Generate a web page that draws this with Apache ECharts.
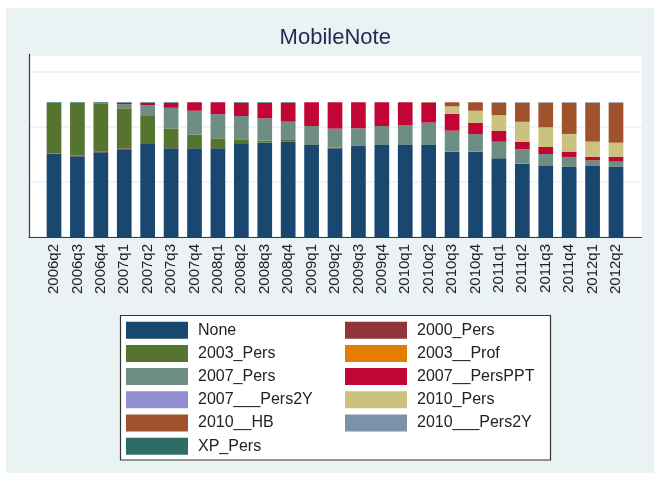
<!DOCTYPE html>
<html>
<head>
<meta charset="utf-8">
<script src="https://cdn.jsdelivr.net/npm/echarts@6/dist/echarts.min.js"></script>
<style>
html,body{margin:0;padding:0;background:#fff;width:654px;height:477px;overflow:hidden;}
#c{position:absolute;left:6px;top:8px;width:648px;height:465px;}
</style>
</head>
<body>
<div id="c"></div>
<script>
const categories = ['2006q2','2006q3','2006q4','2007q1','2007q2','2007q3','2007q4','2008q1','2008q2','2008q3','2008q4','2009q1','2009q2','2009q3','2009q4','2010q1','2010q2','2010q3','2010q4','2011q1','2011q2','2011q3','2011q4','2012q1','2012q2'];

const seriesNames = ['None','2000_Pers','2003_Pers','2003__Prof','2007_Pers','2007__PersPPT','2007___Pers2Y','2010_Pers','2010__HB','2010___Pers2Y','XP_Pers'];

const none_         = [61.8,59.9,62.9,65.1,69.0,65.8,65.8,65.8,69.0,70.0,70.8,68.3,65.8,67.6,68.3,68.3,68.3,63.3,63.3,58.4,54.4,52.7,52.0,52.7,52.0];
const pers2000      = [0.3,0.5,0.7,0.7,0,0,0,0,0,0,0,0,0,0,0,0,0,0,0,0,0,0,0,0,0];
const pers2003      = [37.4,39.1,35.6,29.7,20.8,14.8,10.1,7.4,3.5,1.5,1.2,0,0.7,0,0,0,0,0,0,0,0,0,0,0,0];
const prof2003      = [0,0,0,0,0,0,0,0,0,0,0,0,0,0,0,0,0,0,0,0,0,0,0,0,0];
const pers2007      = [0,0,0,3.0,7.9,15.3,17.8,18.0,17.3,16.6,13.6,14.1,13.9,13.1,14.1,14.8,16.6,15.6,13.1,12.3,10.7,8.9,7.4,4.2,3.9];
const persPPT2007   = [0,0,0,1.0,1.8,3.6,6.3,8.8,9.7,11.4,13.9,17.6,19.6,19.3,17.6,16.9,14.6,12.4,8.4,8.2,5.6,5.2,4.0,2.5,3.5];
const pers2Y2007    = [0,0,0,0,0,0,0,0,0,0,0,0,0,0,0,0,0,0,0,0,0,0,0,0,0];
const pers2010      = [0,0,0,0,0,0,0,0,0,0,0,0,0,0,0,0,0,5.7,8.9,11.6,14.8,14.6,13.1,11.4,10.6];
const hb2010        = [0,0,0,0,0,0,0,0,0,0,0,0,0,0,0,0,0.5,3.0,6.3,9.0,14.0,18.1,23.0,28.7,29.5];
const pers2Y2010    = [0,0,0,0,0,0,0,0,0,0,0,0,0,0,0,0,0,0,0,0.5,0.5,0.5,0.5,0.5,0.5];
const xpPers        = [0.5,0.5,0.8,0.5,0.5,0.5,0,0,0.5,0.5,0.5,0,0,0,0,0,0,0,0,0,0,0,0,0,0];

const seriesValues = [none_,pers2000,pers2003,prof2003,pers2007,persPPT2007,pers2Y2007,pers2010,hb2010,pers2Y2010,xpPers];
const colors = ['#1a476f','#90353b','#55752f','#e37e00','#6e8e84','#c10534','#938dd2','#cac27e','#a0522d','#7b92a8','#2d6d66'];

const chart = echarts.init(document.getElementById('c'), null, {renderer:'canvas'});
const YMAX = 135.6;
const gridTop = 46.3, gridH = 182.7;

const series = seriesNames.map((n,i)=>({
  name:n, type:'bar', stack:'total', xAxisIndex:1, yAxisIndex:1,
  data: seriesValues[i], barWidth:14.7,
  itemStyle:{color:colors[i]},
  emphasis:{disabled:true}, animation:false
}));

const legendBase = {
  orient:'vertical', padding:0, itemWidth:62, itemHeight:17, itemGap:6.2,
  icon:'rect', selectedMode:false,
  textStyle:{fontFamily:'Liberation Sans, Arial, sans-serif', fontSize:16, color:'#222', padding:[0,0,0,5]}
};

chart.setOption({
  backgroundColor:'#eaf2f3',
  animation:false,
  color: colors,
  title:{
    text:'MobileNote', left:273.6, top:18.7, padding:0,
    textStyle:{fontFamily:'Liberation Sans, Arial, sans-serif', fontSize:22, fontWeight:'normal', color:'#1c2d50'}
  },
  grid:[
    {left:23, top:gridTop, width:612.7, height:gridH, show:true, backgroundColor:'#fff', borderWidth:0},
    {left:36.3, top:gridTop, width:585.4, height:gridH, show:false}
  ],
  xAxis:[
    {type:'category', gridIndex:0, data:categories, boundaryGap:true,
     axisLine:{show:true, lineStyle:{color:'#3a3a3a', width:1.2}}, axisTick:{show:false}, axisLabel:{show:false}, splitLine:{show:false}},
    {type:'category', gridIndex:1, data:categories, boundaryGap:true,
     axisLine:{show:false}, axisTick:{show:false},
     axisLabel:{rotate:90, margin:7, fontSize:15, color:'#222', fontFamily:'Liberation Sans, Arial, sans-serif', interval:0}}
  ],
  yAxis:[
    {type:'value', gridIndex:0, min:0, max:YMAX, interval:41,
     axisLine:{show:true, lineStyle:{color:'#3a3a3a', width:1.2}}, axisTick:{show:false}, axisLabel:{show:false},
     splitLine:{show:true, lineStyle:{color:'#eaf2f3', width:1.5}}},
    {type:'value', gridIndex:1, min:0, max:YMAX, show:false, splitLine:{show:false}}
  ],
  legend:[
    Object.assign({}, legendBase, {left:120, top:313.7, data:['None','2003_Pers','2007_Pers','2007___Pers2Y','2010__HB','XP_Pers']}),
    Object.assign({}, legendBase, {left:339, top:313.7, data:['2000_Pers','2003__Prof','2007__PersPPT','2010_Pers','2010___Pers2Y']})
  ],
  graphic:[
    {type:'rect', z:1, shape:{x:114.5, y:307.5, width:430, height:144.5},
     style:{fill:'#fff', stroke:'#333', lineWidth:1.2}}
  ],
  series: series
});
</script>
</body>
</html>
